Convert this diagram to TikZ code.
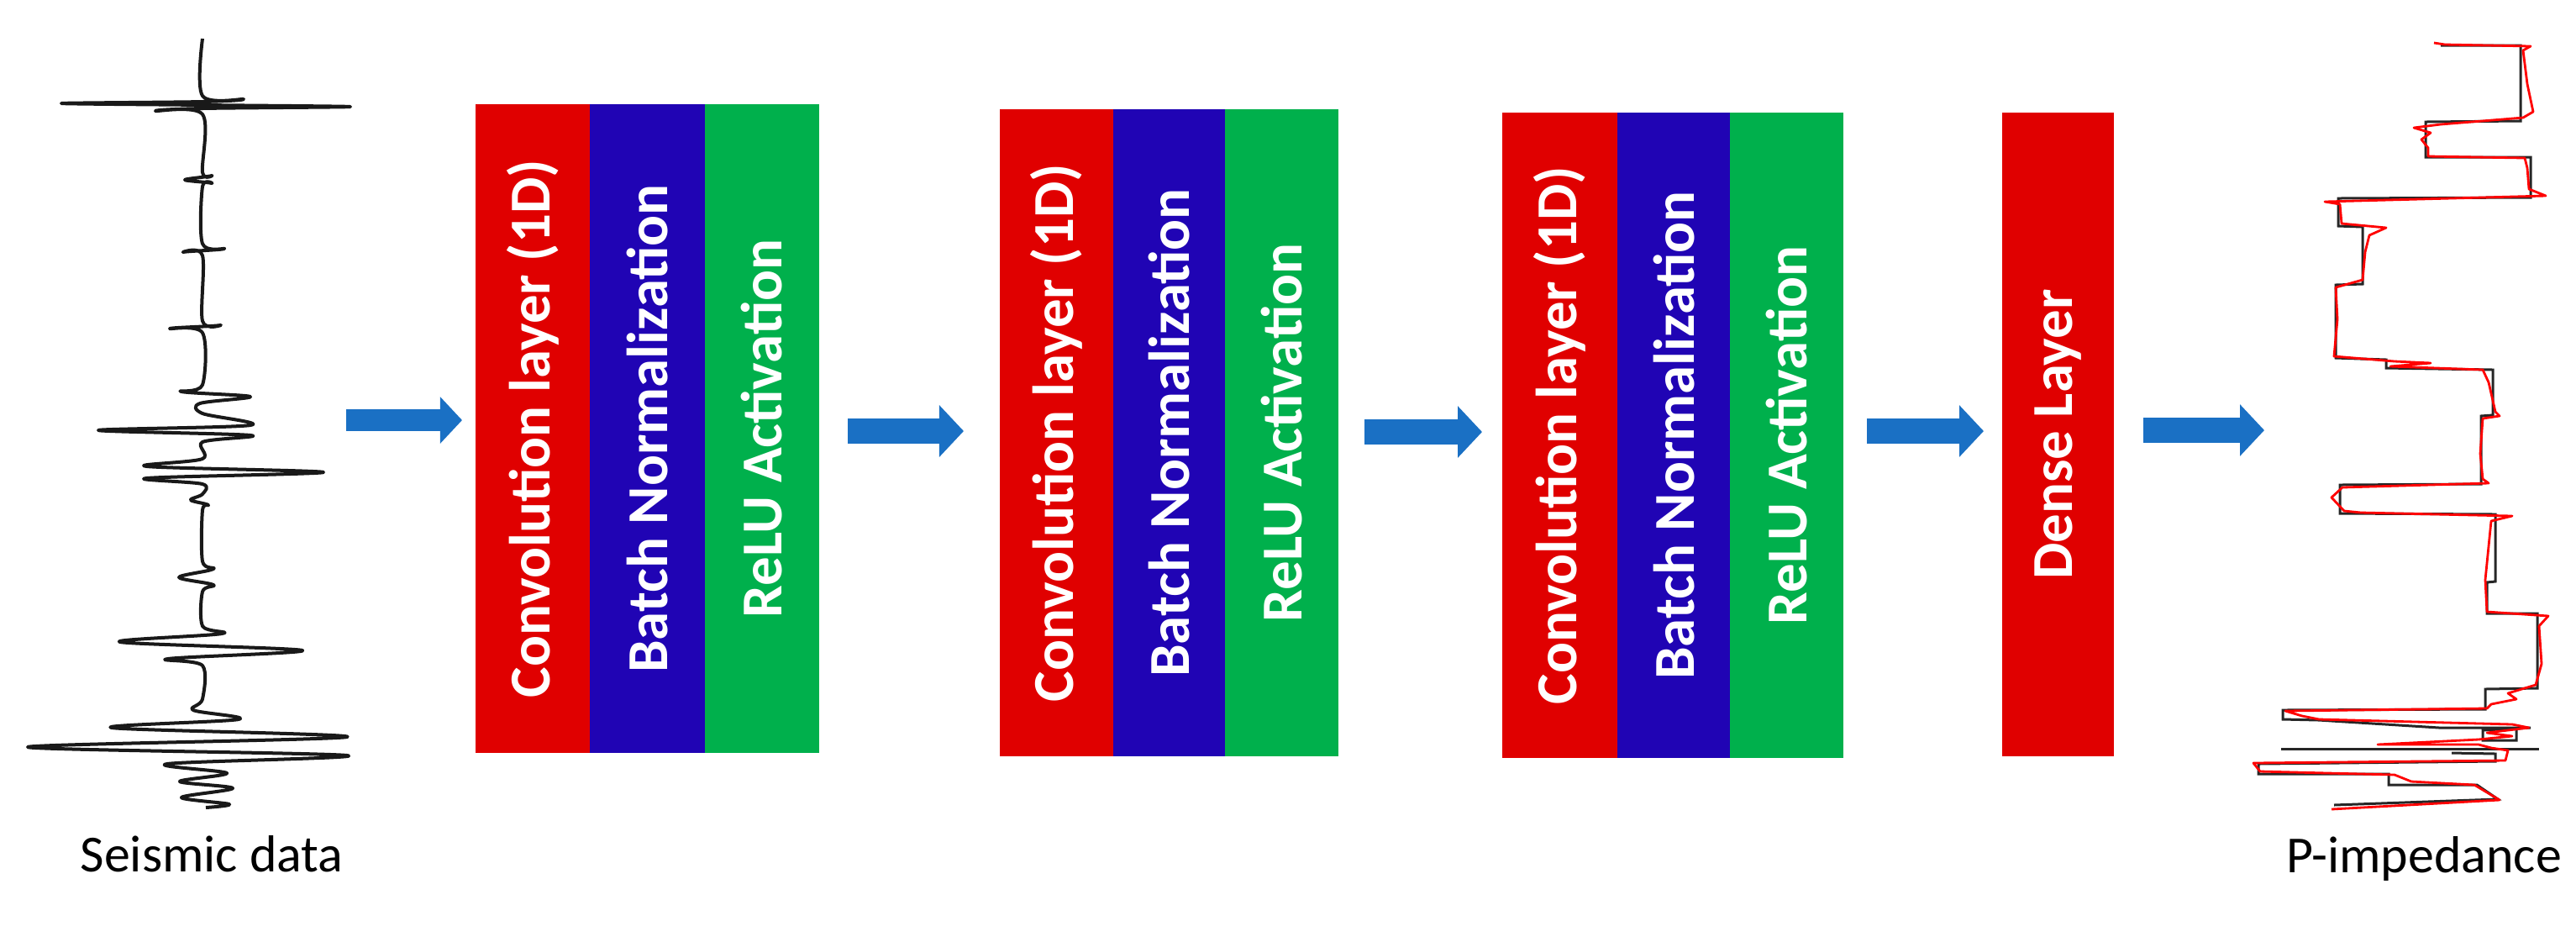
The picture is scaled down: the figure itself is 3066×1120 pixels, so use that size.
\documentclass[tikz,border=0pt]{standalone}
\usepackage{fontspec}
\setmainfont{Carlito}
\usetikzlibrary{arrows.meta}
\definecolor{cred}{RGB}{224,0,0}
\definecolor{cblue}{RGB}{32,4,180}
\definecolor{cgreen}{RGB}{0,176,76}
\definecolor{arrowblue}{RGB}{26,112,196}
\definecolor{logred}{RGB}{255,0,0}
\tikzset{
  layer/.style 2 args={draw=none, inner sep=0pt, outer sep=0pt,
    minimum width=#1*0.01cm, minimum height=#2*0.01cm},
  lbl/.style={rotate=90, text=white, inner sep=0pt,
    font=\bfseries\fontsize{19.6}{23}\selectfont},
  caption/.style={anchor=base, inner sep=0pt, text=black,
    font=\fontsize{17.6}{21}\selectfont},
  fatarrow/.style={draw=arrowblue, line width=0.3cm,
    -{Triangle[width=0.6cm,length=0.29cm]}},
  trace/.style={draw=black!90, line width=0.04cm, line join=round},
  truelog/.style={draw=black!85, line width=0.03cm},
  predlog/.style={draw=logred, line width=0.028cm, line join=round}
}
\begin{document}
\begin{tikzpicture}[x=0.01cm, y=-0.01cm]
\useasboundingbox (0,0) rectangle (3066,1120);

% ---------- seismic trace ----------
\draw[trace] plot[smooth, tension=0.55] coordinates {
 (241,46) (241,114) (290,118) (241,121) (73,123) (241,125) (417,127)
 (241,129) (185,132) (241,136) (241,205) (252,209) (220,214) (252,218)
 (241,222) (241,290) (267,296) (218,300) (241,304) (241,382) (262,387)
 (202,391) (241,396) (241,458) (216,466) (298,472) (238,480) (241,492)
 (298,506) (117,512) (298,518) (241,526) (241,546) (175,555) (385,562)
 (175,569) (241,576) (241,588) (227,595) (248,601) (241,607) (241,668)
 (254,677) (213,687) (254,696) (241,704) (241,745) (264,754) (143,764)
 (360,774) (200,784) (241,792) (241,832) (230,845) (284,856) (133,866)
 (413,877) (33,889) (413,899) (199,909) (270,920) (214,930) (277,938)
 (216,949) (273,957) (245,961)};
\coordinate (seis) at (241,510);
\node[caption] (seiscap) at (252,1037) {Seismic data};

% ---------- block 1 ----------
\node[layer={136}{772}, fill=cred]   (r1) at (634,510) {};
\node[layer={137}{772}, fill=cblue]  (b1) at (770.5,510) {};
\node[layer={136}{772}, fill=cgreen] (g1) at (907,510) {};
\node[lbl] (tr1) at (r1.center) {Convolution layer (1D)};
\node[lbl] (tb1) at (b1.center) {Batch Normalization};
\node[lbl] (tg1) at (g1.center) {ReLU Activation};

% ---------- block 2 ----------
\node[layer={135}{770}, fill=cred]   (r2) at (1257.5,515) {};
\node[layer={133}{770}, fill=cblue]  (b2) at (1391.5,515) {};
\node[layer={135}{770}, fill=cgreen] (g2) at (1525.5,515) {};
\node[lbl] (tr2) at (r2.center) {Convolution layer (1D)};
\node[lbl] (tb2) at (b2.center) {Batch Normalization};
\node[lbl] (tg2) at (g2.center) {ReLU Activation};

% ---------- block 3 ----------
\node[layer={137}{768}, fill=cred]   (r3) at (1856.5,518) {};
\node[layer={134}{768}, fill=cblue]  (b3) at (1992,518) {};
\node[layer={135}{768}, fill=cgreen] (g3) at (2126.5,518) {};
\node[lbl] (tr3) at (r3.center) {Convolution layer (1D)};
\node[lbl] (tb3) at (b3.center) {Batch Normalization};
\node[lbl] (tg3) at (g3.center) {ReLU Activation};

% ---------- dense ----------
\node[layer={133}{766}, fill=cred] (d) at (2449.5,517) {};
\node[lbl] (td) at (d.center) {Dense Layer};

% ---------- P-impedance log ----------
\draw[truelog] (2905,54) -- (3000,54) -- (3000,144) -- (2887,145) -- (2887,187)
 -- (3012,187) -- (3012,235) -- (2783,236) -- (2783,269) -- (2812,270)
 -- (2812,338) -- (2780,339) -- (2780,426) -- (2840,428) -- (2840,438)
 -- (2967,440) -- (2967,494) -- (2953,495) -- (2953,576) -- (2785,577)
 -- (2785,611) -- (2970,612) -- (2970,692) -- (2960,693) -- (2960,730)
 -- (3020,730) -- (3020,819) -- (2958,820) -- (2958,844) -- (2717,845)
 -- (2717,856) -- (2760,857) -- (2903,866) -- (3012,866) -- (2955,869)
 -- (2955,881) -- (2995,881) -- (2995,869);
\draw[truelog] (2715,891) -- (3022,891);
\draw[truelog] (2918,896) -- (2970,897) -- (2970,906) -- (2688,909)
 -- (2688,921) -- (2843,921) -- (2843,934) -- (2948,934) -- (2973,951)
 -- (2778,958);
\draw[predlog] (2897,51) -- (2910,53) -- (3012,55) -- (3003,60) -- (3008,100)
 -- (3015,133) -- (3003,140) -- (2905,148) -- (2873,152) -- (2893,158)
 -- (2882,166) -- (2890,176) -- (2890,186) -- (3005,188) -- (3008,200)
 -- (3010,225) -- (3030,233) -- (2767,240) -- (2785,243) -- (2787,266)
 -- (2840,271) -- (2820,280) -- (2815,300) -- (2812,333) -- (2780,342)
 -- (2782,380) -- (2778,424) -- (2850,430) -- (2893,432) -- (2845,436)
 -- (2955,440) -- (2962,455) -- (2970,490) -- (2975,495) -- (2955,498)
 -- (2952,540) -- (2955,570) -- (2962,575) -- (2788,580) -- (2775,592)
 -- (2790,608) -- (2810,610) -- (2990,614) -- (2965,620) -- (2962,650)
 -- (2958,690) -- (2960,728) -- (3033,733) -- (3022,745) -- (3025,790)
 -- (3018,815) -- (2985,825) -- (2995,832) -- (2965,838) -- (2960,843)
 -- (2720,846) -- (2740,852) -- (2760,856) -- (2990,862) -- (3010,866)
 -- (2960,872) -- (2990,876) -- (2950,880) -- (2830,886) -- (2950,886)
 -- (2965,890) -- (2985,893) -- (2982,905) -- (2682,908) -- (2690,918)
 -- (2850,922) -- (2870,930) -- (2945,934) -- (2975,952) -- (2775,963);
\coordinate (imp) at (2860,510);
\node[caption] (impcap) at (2885,1038) {P-impedance};

% ---------- connectors ----------
\coordinate (a1s) at (412,500);  \coordinate (a1e) at (550,500);
\coordinate (a2s) at (1009,513); \coordinate (a2e) at (1147,513);
\coordinate (a3s) at (1624,514); \coordinate (a3e) at (1764,514);
\coordinate (a4s) at (2222,513); \coordinate (a4e) at (2361,513);
\coordinate (a5s) at (2551,512); \coordinate (a5e) at (2695,512);
\draw[fatarrow, line width=0.26cm, -{Triangle[width=0.54cm,length=0.26cm]}] (a1s) -- (a1e);
\draw[fatarrow] (a2s) -- (a2e);
\draw[fatarrow] (a3s) -- (a3e);
\draw[fatarrow] (a4s) -- (a4e);
\draw[fatarrow] (a5s) -- (a5e);
\end{tikzpicture}
\end{document}
